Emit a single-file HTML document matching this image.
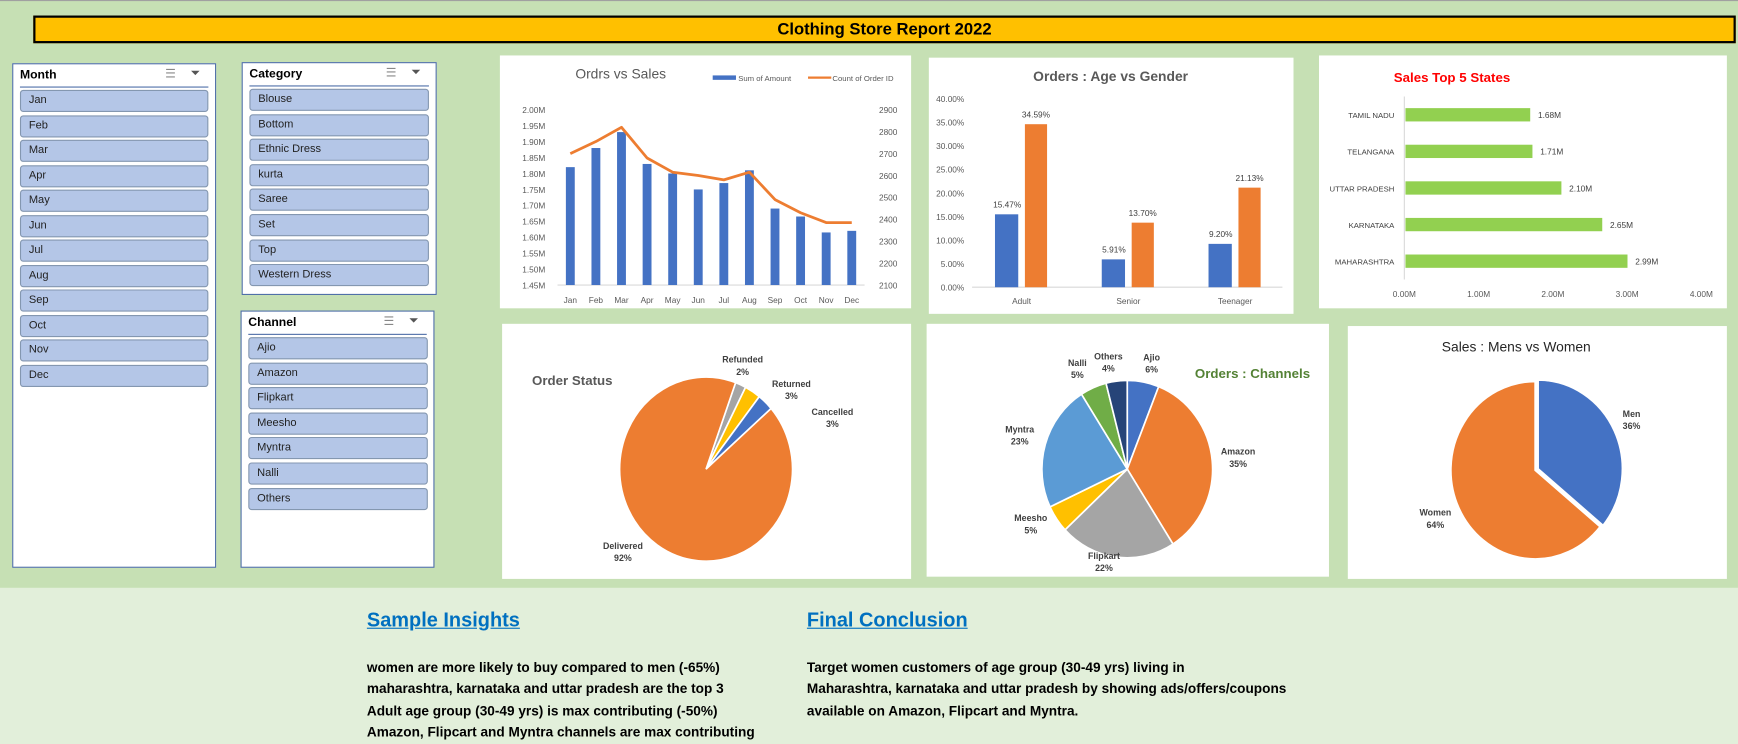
<!DOCTYPE html>
<html><head><meta charset="utf-8">
<style>
html,body{margin:0;padding:0;width:1738px;height:743px;overflow:hidden;background:#e2efda;font-family:"Liberation Sans",sans-serif;}
#wrap{position:absolute;left:0;top:0;width:1568px;height:670px;transform:scale(1.1084,1.109);transform-origin:0 0;}
.top{position:absolute;left:0;top:0;width:1568px;height:530px;background:#c6e0b4;border-top:1px solid #a0a0a0;box-sizing:border-box}
.titlebar{position:absolute;left:30px;top:14px;width:1536px;height:25px;background:#ffc000;border:2px solid #000;box-sizing:border-box;text-align:center;font-weight:bold;font-size:15px;line-height:21px;color:#000}
.slicer{position:absolute;background:#fff;border:1px solid #4f6fa8;box-sizing:border-box}
.slicer .hd{position:absolute;left:6px;top:4px;font-size:11px;font-weight:bold;color:#000}
.slicer .ln{position:absolute;left:6px;right:6px;top:20px;height:1px;background:#4f6fa8}
.slicer .ic{position:absolute;top:2px;font-size:11px;color:#888}
.item{position:absolute;background:#b4c6e7;border:1px solid #8497b0;border-radius:3px;box-sizing:border-box;font-size:10px;line-height:18px;padding-left:7px;color:#222}
.panel{position:absolute;background:#fff}
.h2{position:absolute;font-size:18px;font-weight:bold;color:#0070c0;text-decoration:underline}
.txt{position:absolute;font-size:12.3px;font-weight:bold;color:#000;line-height:19.4px;white-space:nowrap}
svg text{font-family:"Liberation Sans",sans-serif}
</style></head><body>
<div id="wrap">
<div class="top"></div>
<div class="titlebar">Clothing Store Report 2022</div>

<div class="slicer" style="left:11px;top:57px;width:184px;height:455px">
 <div class="hd">Month</div>
 <div class="ic" style="left:137px">☰</div>
 <div class="ic" style="left:160px;color:#555">⏷</div>
 <div class="ln"></div>
 <div id="months"></div>
</div>
<div class="slicer" style="left:218px;top:56px;width:176px;height:210px">
 <div class="hd">Category</div>
 <div class="ic" style="left:129px">☰</div>
 <div class="ic" style="left:152px;color:#555">⏷</div>
 <div class="ln"></div>
 <div id="cats"></div>
</div>
<div class="slicer" style="left:217px;top:280px;width:175px;height:232px">
 <div class="hd">Channel</div>
 <div class="ic" style="left:128px">☰</div>
 <div class="ic" style="left:151px;color:#555">⏷</div>
 <div class="ln"></div>
 <div id="chans"></div>
</div>

<div class="panel" style="left:451px;top:50px;width:371px;height:228px"></div>
<div class="panel" style="left:838px;top:52px;width:329px;height:231px"></div>
<div class="panel" style="left:1190px;top:50px;width:368px;height:228px"></div>
<div class="panel" style="left:453px;top:292px;width:369px;height:230px"></div>
<div class="panel" style="left:836px;top:292px;width:363px;height:228px"></div>
<div class="panel" style="left:1216px;top:294px;width:342px;height:228px"></div>

<svg id="charts" width="1568" height="670" style="position:absolute;left:0;top:0"></svg>

<div class="h2" style="left:331px;top:549px">Sample Insights </div>
<div class="h2" style="left:728px;top:549px">Final Conclusion </div>
<div class="txt" style="left:331px;top:593px">women are more likely to buy compared to men (-65%)<br>maharashtra, karnataka and uttar pradesh are the top 3<br>Adult age group (30-49 yrs) is max contributing (-50%)<br>Amazon, Flipcart and Myntra channels are max contributing</div>
<div class="txt" style="left:728px;top:593px">Target women customers of age group (30-49 yrs) living in<br>Maharashtra, karnataka and uttar pradesh by showing ads/offers/coupons<br>available on Amazon, Flipcart and Myntra.</div>
</div>

<script>
// ---------- data ----------
const months = ["Jan","Feb","Mar","Apr","May","Jun","Jul","Aug","Sep","Oct","Nov","Dec"];
const categories = ["Blouse","Bottom","Ethnic Dress","kurta","Saree","Set","Top","Western Dress"];
const channels = ["Ajio","Amazon","Flipkart","Meesho","Myntra","Nalli","Others"];
const salesAmount = [1.82,1.88,1.93,1.83,1.80,1.75,1.77,1.81,1.69,1.665,1.615,1.62];
const orderCount = [2700,2755,2820,2680,2615,2600,2580,2615,2490,2430,2385,2385];
const leftTicks = [1.45,1.50,1.55,1.60,1.65,1.70,1.75,1.80,1.85,1.90,1.95,2.00];
const rightTicks = [2100,2200,2300,2400,2500,2600,2700,2800,2900];
const ageGroups = ["Adult","Senior","Teenager"];
const menPct = [15.47,5.91,9.20];
const womenPct = [34.59,13.70,21.13];
const pctTicks = [0,5,10,15,20,25,30,35,40];
const states = ["TAMIL NADU","TELANGANA","UTTAR PRADESH","KARNATAKA","MAHARASHTRA"];
const stateSales = [1.68,1.71,2.10,2.65,2.99];
const stateTicks = [0,1,2,3,4];
const statusLabels = ["Refunded","Returned","Cancelled","Delivered"];
const statusPct = [2,3,3,92];
const channelPct = [6,35,22,5,23,5,4];
const genderLabels = ["Men","Women"];
const genderPct = [36,64];

// ---------- slicers ----------
function fillSlicer(id, list, x0, w, y0, pitch, nm){
  const c=document.getElementById(id);
  list.forEach((t,i)=>{
    const d=document.createElement('div');
    d.className='item';
    d.style.left=x0+'px'; d.style.width=w+'px'; d.style.top=(y0+i*pitch)+'px'; d.style.height='20px';
    d.textContent=t;
    
    
    c.appendChild(d);
  });
}
fillSlicer('months',months,6,170,23,22.5,'month-item');
fillSlicer('cats',categories,6,162,23,22.6,'category-item');
fillSlicer('chans',channels,6,162,23,22.6,'channel-item');

// ---------- svg helpers ----------
const svg=document.getElementById('charts');
const NS='http://www.w3.org/2000/svg';
function el(tag,attrs,parent){const e=document.createElementNS(NS,tag);for(const k in attrs)e.setAttribute(k,attrs[k]);(parent||svg).appendChild(e);return e;}
function txt(x,y,s,attrs,parent){const t=el('text',Object.assign({x:x,y:y},attrs),parent);t.textContent=s;return t;}

// ---------- Chart 1: Orders vs Sales ----------
(function(){
  const g=el('g',{});
  
  
  const px0=503,px1=780,py0=257,py1=99;
  const yL=v=>py0-(v-1.45)/(2.00-1.45)*(py0-py1);
  const yR=v=>py0-(v-2100)/(2900-2100)*(py0-py1);
  const step=(px1-px0)/months.length;
  const xC=i=>px0+step*(i+0.5);
  txt(560,71,'Ordrs vs Sales',{'font-size':12.5,fill:'#595959','text-anchor':'middle'},g);
  el('rect',{x:643,y:68,width:21,height:4,fill:'#4472c4'},g);
  txt(666,73,'Sum of Amount',{'font-size':7,fill:'#595959'},g);
  el('line',{x1:729,y1:70,x2:750,y2:70,stroke:'#ed7d31','stroke-width':2},g);
  txt(751,73,'Count of Order ID',{'font-size':7,fill:'#595959'},g);
  leftTicks.forEach(v=>{txt(492,yL(v)+3,v.toFixed(2)+'M',{'font-size':7.5,fill:'#595959','text-anchor':'end'},g);});
  rightTicks.forEach(v=>{txt(793,yR(v)+3,String(v),{'font-size':7.5,fill:'#595959'},g);});
  el('line',{x1:px0,y1:py0,x2:px1,y2:py0,stroke:'#d9d9d9','stroke-width':1},g);
  salesAmount.forEach((v,i)=>{
    const b=el('rect',{x:xC(i)-4,y:yL(v),width:8,height:py0-yL(v),fill:'#4472c4'},g);
    
    
    txt(xC(i),273,months[i],{'font-size':7.5,fill:'#595959','text-anchor':'middle'},g);
  });
  const pts=orderCount.map((v,i)=>xC(i)+','+yR(v)).join(' ');
  const pl=el('polyline',{points:pts,fill:'none',stroke:'#ed7d31','stroke-width':2.5,'stroke-linejoin':'round'},g);
  
  
})();

// ---------- Chart 2: Age vs Gender ----------
(function(){
  const g=el('g',{});
  
  
  const py0=259,py1=89,px0=877,px1=1157;
  const y=v=>py0-v/40*(py0-py1);
  const step=(px1-px0)/ageGroups.length;
  txt(1002,73,'Orders : Age vs Gender',{'font-size':12.5,'font-weight':'bold',fill:'#595959','text-anchor':'middle'},g);
  pctTicks.forEach(v=>txt(870,y(v)+3,v.toFixed(2)+'%',{'font-size':7.5,fill:'#595959','text-anchor':'end'},g));
  el('line',{x1:px0,y1:py0,x2:px1,y2:py0,stroke:'#d9d9d9'},g);
  ageGroups.forEach((a,i)=>{
    const c=px0+step*(i+0.5)-(i===0?4:i===1?1:-2);
    const b1=el('rect',{x:c-22,y:y(menPct[i]),width:21,height:py0-y(menPct[i]),fill:'#4472c4'},g);
    
    
    const b2=el('rect',{x:c+5,y:y(womenPct[i]),width:20,height:py0-y(womenPct[i]),fill:'#ed7d31'},g);
    
    
    txt(c-11,y(menPct[i])-6,menPct[i].toFixed(2)+'%',{'font-size':7.5,fill:'#404040','text-anchor':'middle'},g);
    txt(c+15,y(womenPct[i])-6,womenPct[i].toFixed(2)+'%',{'font-size':7.5,fill:'#404040','text-anchor':'middle'},g);
    txt(c+2,274,a,{'font-size':7.5,fill:'#595959','text-anchor':'middle'},g);
  });
})();

// ---------- Chart 3: Top 5 States ----------
(function(){
  const g=el('g',{});
  
  
  const x0=1267,x1=1535,yTop=87,yBot=252;
  const x=v=>x0+v/4*(x1-x0);
  const step=(yBot-yTop)/states.length;
  txt(1310,74,'Sales Top 5 States',{'font-size':12,'font-weight':'bold',fill:'#ff0000','text-anchor':'middle'},g);
  el('line',{x1:x0,y1:yTop,x2:x0,y2:yBot,stroke:'#d9d9d9'},g);
  states.forEach((s,i)=>{
    const cy=yTop+step*(i+0.5);
    const b=el('rect',{x:x0+1,y:cy-6,width:x(stateSales[i])-x0,height:12,fill:'#92d050'},g);
    
    
    txt(1258,cy+3,s,{'font-size':7,fill:'#404040','text-anchor':'end'},g);
    txt(x(stateSales[i])+8,cy+3,stateSales[i].toFixed(2)+'M',{'font-size':7.5,fill:'#404040'},g);
  });
  stateTicks.forEach(v=>txt(x(v),268,v.toFixed(2)+'M',{'font-size':7.5,fill:'#595959','text-anchor':'middle'},g));
})();

// ---------- pies ----------
function pie(name,cx,cy,rx,ry,startDeg,vals,colors,explode){
  const g=el('g',{});
  
  
  const tot=vals.reduce((a,b)=>a+b,0);
  let a=startDeg;
  vals.forEach((v,i)=>{
    const a0=a*Math.PI/180, a1=(a+v/tot*360)*Math.PI/180;
    const mid=(a0+a1)/2, ex=(explode&&explode[i])||0;
    const ox=cx+Math.sin(mid)*ex, oy=cy-Math.cos(mid)*ex;
    const p0=[ox+rx*Math.sin(a0),oy-ry*Math.cos(a0)], p1=[ox+rx*Math.sin(a1),oy-ry*Math.cos(a1)];
    const large=(a1-a0)>Math.PI?1:0;
    const p=el('path',{d:`M${ox},${oy} L${p0[0]},${p0[1]} A${rx},${ry} 0 ${large} 1 ${p1[0]},${p1[1]} Z`,fill:colors[i],stroke:'#fff','stroke-width':1.5},g);
    
    
    a+=v/tot*360;
  });
  return g;
}
function plabel(x,y,l1,l2,nm){
  const g=el('g',{});
  
  
  txt(x,y,l1,{'font-size':8,'font-weight':'bold',fill:'#404040','text-anchor':'middle'},g);
  txt(x,y+11,l2,{'font-size':8,'font-weight':'bold',fill:'#404040','text-anchor':'middle'},g);
}
txt(480,347,'Order Status',{'font-size':12,'font-weight':'bold',fill:'#595959'});
pie('order-status-pie',637,423,78,83,20,statusPct,['#a5a5a5','#ffc000','#4472c4','#ed7d31']);
plabel(670,327,statusLabels[0],statusPct[0]+'%','refunded-label');
plabel(714,349,statusLabels[1],statusPct[1]+'%','returned-label');
plabel(751,374,statusLabels[2],statusPct[2]+'%','cancelled-label');
plabel(562,495,statusLabels[3],statusPct[3]+'%','delivered-label');
txt(1130,341,'Orders : Channels',{'font-size':12,'font-weight':'bold',fill:'#548235','text-anchor':'middle'});
pie('channels-pie',1017,423,77,80,0,channelPct,['#4472c4','#ed7d31','#a5a5a5','#ffc000','#5b9bd5','#70ad47','#264478']);
plabel(1039,325,channels[0],channelPct[0]+'%','ajio-label');
plabel(1117,410,channels[1],channelPct[1]+'%','amazon-label');
plabel(996,504,channels[2],channelPct[2]+'%','flipkart-label');
plabel(930,470,channels[3],channelPct[3]+'%','meesho-label');
plabel(920,390,channels[4],channelPct[4]+'%','myntra-label');
plabel(972,330,channels[5],channelPct[5]+'%','nalli-label');
plabel(1000,324,channels[6],channelPct[6]+'%','others-label');
txt(1368,317,'Sales : Mens vs Women',{'font-size':12.5,fill:'#262626','text-anchor':'middle'});
pie('gender-pie',1385,424,76,80,0,genderPct,['#4472c4','#ed7d31'],[3,0]);
plabel(1472,376,genderLabels[0],genderPct[0]+'%','men-label');
plabel(1295,465,genderLabels[1],genderPct[1]+'%','women-label');
</script>
</body></html>
